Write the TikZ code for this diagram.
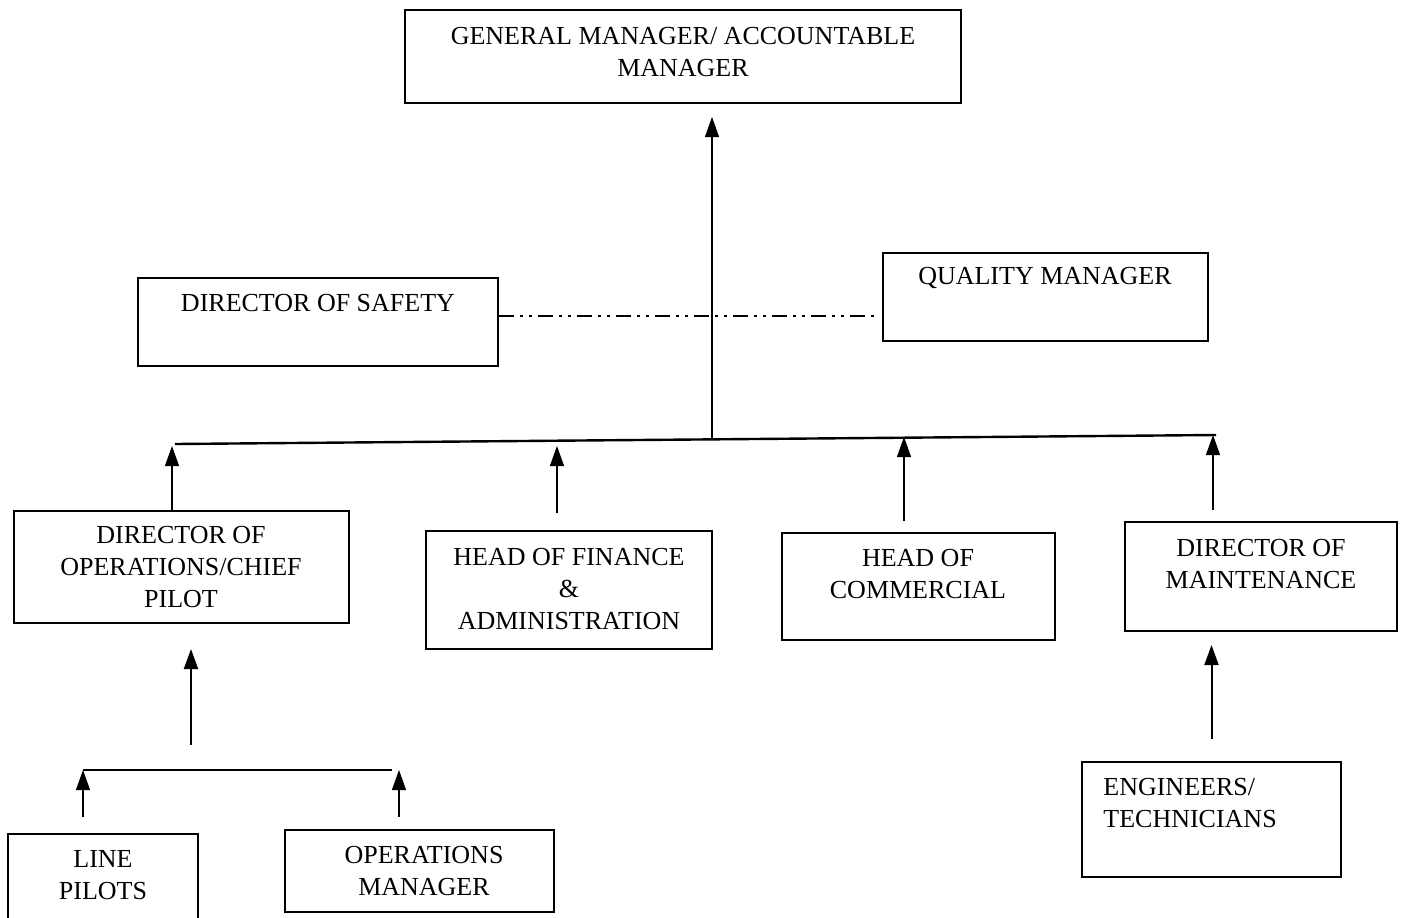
\documentclass[tikz,border=0pt]{standalone}
\usepackage{fontspec}
\setmainfont{Liberation Serif}
\usetikzlibrary{arrows.meta,positioning}

\begin{document}
\begin{tikzpicture}[x=0.5pt,y=-0.5pt,
        box/.style={draw, line width=1pt, inner sep=0pt},
        txt/.style={align=center, inner sep=0pt, font=\fontsize{13}{16}\selectfont},
        arr/.style={-{Triangle[width=7pt,length=10pt]}, line width=0.6pt},
        bus/.style={line width=1.2pt},
        safetyline/.style={line width=1pt, dash pattern=on 7.5pt off 3pt on 1.5pt off 3pt on 1.5pt off 3pt}]
    \useasboundingbox (0,0) rectangle (1404,917);
    % top of the chart
    \node[box, minimum width=278pt, minimum height=46.5pt] (gm) at (683,56.5) {};
    \node[txt] (gm-t) at (683,52) {GENERAL MANAGER/ ACCOUNTABLE\\MANAGER};
    % side posts
    \node[box, minimum width=180pt, minimum height=44pt] (dos) at (318,322) {};
    \node[txt] (dos-t) at (318,303) {DIRECTOR OF SAFETY};
    \node[box, minimum width=162.5pt, minimum height=44pt] (qm) at (1045.5,297) {};
    \node[txt] (qm-t) at (1045,278) {QUALITY MANAGER};
    % directors and heads
    \node[box, minimum width=167.5pt, minimum height=56pt] (doc) at (181.5,567) {};
    \node[txt] (doc-t) at (181,567) {DIRECTOR OF\\OPERATIONS/CHIEF\\PILOT};
    \node[box, minimum width=143pt, minimum height=59pt] (hfa) at (569,590) {};
    \node[txt] (hfa-t) at (569,589) {HEAD OF FINANCE\\\&\\ADMINISTRATION};
    \node[box, minimum width=136.5pt, minimum height=53.5pt] (hc) at (918.5,586.5) {};
    \node[txt] (hc-t) at (918,574) {HEAD OF\\COMMERCIAL};
    \node[box, minimum width=136pt, minimum height=54.5pt] (dm) at (1261,576.5) {};
    \node[txt] (dm-t) at (1261,564) {DIRECTOR OF\\MAINTENANCE};
    % bottom row
    \node[box, minimum width=95pt, minimum height=50pt] (lp) at (103,884) {};
    \node[txt] (lp-t) at (103,875) {LINE\\PILOTS};
    \node[box, minimum width=134.5pt, minimum height=41pt] (om) at (419.5,871) {};
    \node[txt] (om-t) at (424,871) {OPERATIONS\\MANAGER};
    \node[box, minimum width=129.5pt, minimum height=57.5pt] (eng) at (1211.5,819.5) {};
    \node[txt, align=left, anchor=west] (eng-t) at (1103,803) {ENGINEERS/\\TECHNICIANS};

    % bus lines
    \coordinate (busL) at (175,444);
    \coordinate (busR) at (1216,435);
    \coordinate (trunk) at (712,438);
    \coordinate (t1) at (172,446);
    \coordinate (t2) at (557,446);
    \coordinate (t3) at (904,437);
    \coordinate (t4) at (1213,435);
    \coordinate (b1) at (83,770);
    \coordinate (b2) at (392,770);
    \coordinate (b3) at (399,770);
    \coordinate (up) at (191,745);
    \draw[bus] (busL) -- (busR);
    \draw[bus] (b1) -- (b2);
    \draw[arr] (trunk) -- (gm.south -| trunk) [shorten >=6.5pt];
    \draw[safetyline] ([yshift=3pt]dos.east) -- ([yshift=3pt]dos.east -| qm.west) [shorten >=4pt];

    % arrows up to the bus
    \draw[arr] (doc.north -| t1) -- (t1);
    \draw[arr, shorten <=8.5pt] (hfa.north -| t2) -- (t2);
    \draw[arr, shorten <=5.5pt] (hc.north -| t3) -- (t3);
    \draw[arr, shorten <=5.5pt] (dm.north -| t4) -- (t4);
    \draw[arr, line width=1pt, shorten >=12.5pt] (up) -- (doc.south -| up);
    \draw[arr, shorten <=8pt] (lp.north -| b1) -- (b1);
    \draw[arr, shorten <=6pt] (om.north -| b3) -- (b3);
    \draw[arr, line width=1pt, shorten <=11pt, shorten >=6.5pt] (eng.north) -- (eng.north |- dm.south);
\end{tikzpicture}
\end{document}
